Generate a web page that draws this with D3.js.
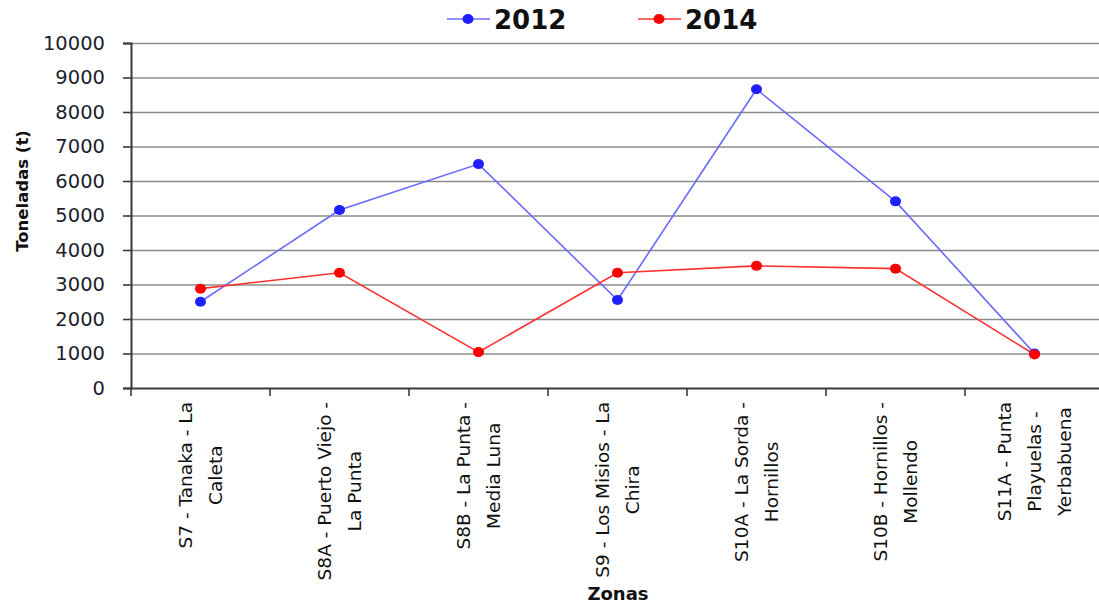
<!DOCTYPE html>
<html>
<head>
<meta charset="utf-8">
<script src="https://cdn.jsdelivr.net/npm/d3@7"></script>
<style>
  body { margin: 0; background: #fff; }
  text { font-family: "DejaVu Sans", sans-serif; }
</style>
</head>
<body>
<div id="chart"></div>
<script>
// zonas (each entry = wrapped label lines)
const zonas = [
    ["S7 - Tanaka - La", "Caleta"],
    ["S8A - Puerto Viejo -", "La Punta"],
    ["S8B - La Punta -", "Media Luna"],
    ["S9 - Los Misios - La", "Chira"],
    ["S10A - La Sorda -", "Hornillos"],
    ["S10B - Hornillos -", "Mollendo"],
    ["S11A - Punta", "Playuelas -", "Yerbabuena"]
];
const valores2012 = [2500, 5160, 6490, 2550, 8660, 5410, 1000];
const valores2014 = [2880, 3340, 1040, 3340, 3540, 3460, 970];
const yTicks = [0, 1000, 2000, 3000, 4000, 5000, 6000, 7000, 8000, 9000, 10000];

const series = [
    { name: "2012", values: valores2012, line: "#6a6aff", dot: "#1f1fff", lx: 447 },
    { name: "2014", values: valores2014, line: "#ff3030", dot: "#ff0000", lx: 638 }
];

const width = 1099, height = 609;
const margin = { top: 43, right: -5, bottom: 221, left: 131 };

const svg = d3.select("#chart")
    .append("svg")
    .attr("width", width)
    .attr("height", height);

const keys = zonas.map((d, i) => i);

const x = d3.scaleBand()
    .domain(keys)
    .range([margin.left, width - margin.right])
    .paddingInner(0)
    .paddingOuter(0);

const y = d3.scaleLinear()
    .domain([0, 10000])
    .range([height - margin.bottom, margin.top]);

// gridlines
svg.append("g")
    .attr("transform", `translate(${margin.left},0)`)
    .call(d3.axisRight(y).tickValues(yTicks.slice(1)).tickSize(width - margin.left).tickFormat(""))
    .call(g => g.select(".domain").remove())
    .call(g => g.selectAll(".tick line").attr("stroke", "#8c8c8c").attr("stroke-width", 1.6));

// y axis
svg.append("g")
    .attr("transform", `translate(${margin.left},0)`)
    .call(d3.axisLeft(y).tickValues(yTicks).tickSize(8).tickPadding(18).tickFormat(d3.format("d")))
    .call(g => g.select(".domain").attr("stroke", "#3a3a3a").attr("stroke-width", 2))
    .call(g => g.selectAll(".tick line").attr("stroke", "#3a3a3a").attr("stroke-width", 1.6))
    .call(g => g.selectAll(".tick text")
        .attr("font-family", "DejaVu Sans")
        .attr("font-size", 19.5)
        .attr("fill", "#1e1e2e"));

// x axis (ticks between categories)
svg.append("g")
    .attr("transform", `translate(0,${y(0)})`)
    .call(d3.axisBottom(x).tickSize(8).tickSizeOuter(0).tickFormat(""))
    .call(g => g.select(".domain").attr("stroke", "#3a3a3a").attr("stroke-width", 2))
    .call(g => g.selectAll(".tick")
        .attr("transform", d => `translate(${x(d)},0)`))
    .call(g => g.selectAll(".tick line").attr("stroke", "#3a3a3a").attr("stroke-width", 1.6));

// category labels, rotated
const labelTop = 402, lineGap = 30;
zonas.forEach((lines, i) => {
    const cx = x(i) + x.bandwidth() / 2;
    const g = svg.append("g");
    const texts = lines.map((t, j) => g.append("text")
        .attr("font-size", 18.5)
        .attr("fill", "#111")
        .attr("text-anchor", "middle")
        .attr("dominant-baseline", "central")
        .text(t));
    const maxLen = d3.max(texts, t => t.node().getComputedTextLength());
    const cy = labelTop + maxLen / 2;
    texts.forEach((t, j) => {
        const lxPos = cx + (j - (lines.length - 1) / 2) * lineGap;
        t.attr("transform", `translate(${lxPos},${cy}) rotate(-90)`);
    });
});

// lines and markers
const line = d3.line()
    .x((d, i) => x(i) + x.bandwidth() / 2)
    .y(d => y(d));

series.forEach(s => {
    svg.append("path")
        .datum(s.values)
        .attr("fill", "none")
        .attr("stroke", s.line)
        .attr("stroke-width", 1.6)
        .attr("d", line);
});
series.forEach(s => {
    svg.append("g")
        .selectAll("ellipse")
        .data(s.values)
        .join("ellipse")
        .attr("cx", (d, i) => x(i) + x.bandwidth() / 2)
        .attr("cy", d => y(d))
        .attr("rx", 5.5)
        .attr("ry", 5)
        .attr("fill", s.dot);
});

// axis titles
svg.append("text")
    .attr("transform", `translate(22,191) rotate(-90)`)
    .attr("text-anchor", "middle")
    .attr("dominant-baseline", "central")
    .attr("font-size", 16.5)
    .attr("font-weight", "bold")
    .attr("fill", "#111")
    .text("Toneladas (t)");

svg.append("text")
    .attr("x", 618)
    .attr("y", 600)
    .attr("text-anchor", "middle")
    .attr("font-size", 18)
    .attr("font-weight", "bold")
    .attr("fill", "#111")
    .text("Zonas");

// legend
series.forEach(s => {
    const lg = svg.append("g");
    lg.append("line")
        .attr("x1", s.lx).attr("x2", s.lx + 43)
        .attr("y1", 19).attr("y2", 19)
        .attr("stroke", s.line)
        .attr("stroke-width", 1.6);
    lg.append("ellipse")
        .attr("cx", s.lx + 21).attr("cy", 19)
        .attr("rx", 5.5).attr("ry", 5)
        .attr("fill", s.dot);
    lg.append("text")
        .attr("x", s.lx + 47)
        .attr("y", 29)
        .attr("font-size", 26)
        .attr("font-weight", "bold")
        .attr("fill", "#111")
        .text(s.name);
});
</script>
</body>
</html>
